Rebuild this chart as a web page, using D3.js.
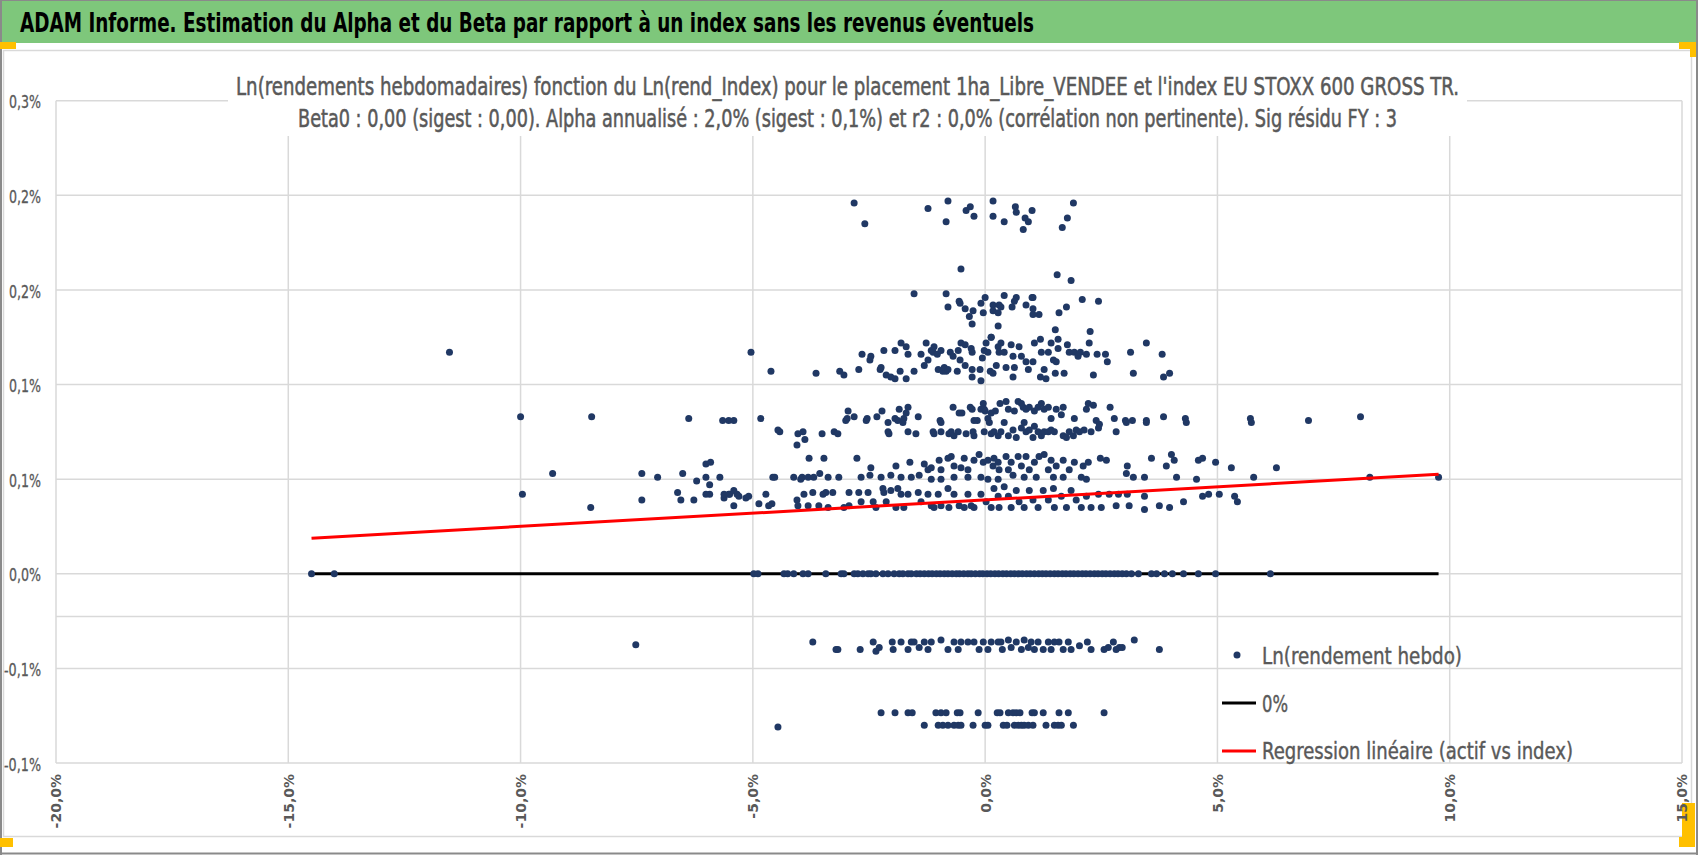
<!DOCTYPE html>
<html>
<head>
<meta charset="utf-8">
<script src="https://cdn.jsdelivr.net/npm/d3@7"></script>
<style>
  body { margin: 0; background: #fff; }
  svg { display: block; }
</style>
</head>
<body>
<script>
// axes
let xTicks = [-20, -15, -10, -5, 0, 5, 10, 15];
let xTickLabels = ["-20,0%", "-15,0%", "-10,0%", "-5,0%", "0,0%", "5,0%", "10,0%", "15,0%"];
let yTicks = [-0.1, -0.05, 0, 0.05, 0.1, 0.15, 0.2, 0.25];
let yTickLabels = ["-0,1%", "-0,1%", "0,0%", "0,1%", "0,1%", "0,2%", "0,2%", "0,3%"];
let axisCrossY = -0.0226;

// points [x = Ln(rend_Index) %, y = Ln(rendement hebdo) %]
let ptsTop = [[-2.82,0.196],[-2.59,0.185],[-1.23,0.193],[-0.80,0.197],[-0.84,0.186],[-0.41,0.192],[-0.32,0.194],[-0.24,0.189],[0.17,0.197],[0.17,0.189],[-0.52,0.161],[0.41,0.186],[0.65,0.194],[0.67,0.191],[0.86,0.188],[0.93,0.186],[0.82,0.182],[1.01,0.192],[1.90,0.196],[1.77,0.188],[1.66,0.183],[1.55,0.158],[1.85,0.155]];

let ptsHigh = [[-1.53,0.148],[-0.84,0.148],[-0.80,0.141],[-0.56,0.144],[-0.54,0.143],[-0.43,0.140],[-0.34,0.136],[-0.26,0.139],[-0.28,0.132],[-0.09,0.143],[0.00,0.146],[-0.04,0.138],[0.17,0.142],[0.17,0.139],[0.28,0.138],[0.30,0.142],[0.28,0.131],[0.13,0.125],[0.41,0.147],[0.34,0.141],[0.67,0.146],[0.63,0.144],[0.58,0.141],[0.88,0.142],[1.01,0.146],[1.03,0.146],[1.03,0.140],[1.03,0.137],[1.16,0.137],[1.59,0.138],[1.75,0.141],[2.09,0.145],[2.44,0.144],[1.51,0.129],[2.26,0.128]];

let ptsMid = [[-11.53,0.117],[-5.04,0.117],[-4.61,0.107],[-3.64,0.106],[-3.13,0.107],[-3.04,0.105],[-2.72,0.108],[-2.65,0.116],[-2.48,0.113],[-2.46,0.115],[-2.26,0.108],[-2.24,0.109],[-2.18,0.118],[-2.13,0.105],[-2.03,0.104],[-1.94,0.103],[-1.94,0.118],[-1.83,0.107],[-1.81,0.122],[-1.70,0.103],[-1.70,0.120],[-1.66,0.116],[-1.53,0.107],[-1.38,0.116],[-1.31,0.110],[-1.27,0.122],[-1.23,0.113],[-1.16,0.118],[-1.12,0.117],[-1.10,0.120],[-1.03,0.116],[-1.01,0.108],[-0.95,0.118],[-0.91,0.107],[-0.84,0.107],[-0.88,0.109],[-0.80,0.108],[-0.75,0.117],[-0.69,0.115],[-0.60,0.107],[-0.58,0.118],[-0.54,0.113],[-0.52,0.122],[-0.43,0.121],[-0.43,0.110],[-0.30,0.119],[-0.28,0.117],[-0.28,0.108],[-0.28,0.104],[-0.11,0.108],[-0.09,0.102],[-0.06,0.114],[-0.02,0.118],[0.02,0.122],[0.06,0.117],[0.13,0.125],[0.11,0.107],[0.17,0.106],[0.24,0.110],[0.28,0.120],[0.30,0.117],
  [0.34,0.122],[0.41,0.117],[0.45,0.109],[0.56,0.121],[0.60,0.115],[0.63,0.109],[0.60,0.104],[0.73,0.120],[0.78,0.115],[0.88,0.112],[0.93,0.108],[1.03,0.112],[1.06,0.122],[1.19,0.124],[1.21,0.117],[1.27,0.108],[1.19,0.104],[1.31,0.103],[1.36,0.117],[1.42,0.122],[1.47,0.113],[1.53,0.112],[1.57,0.124],[1.57,0.119],[1.51,0.106],[1.70,0.106],[1.77,0.121],[1.81,0.117],[1.92,0.117],[2.00,0.115],[2.05,0.117],[2.18,0.116],[2.24,0.122],[2.33,0.105],[2.41,0.116],[2.59,0.116],[2.63,0.112],[3.13,0.117],[3.19,0.106],[3.47,0.122],[3.81,0.116],[3.84,0.104],[3.97,0.106]];

let ptsLow = [[-10.0,0.083],[-8.47,0.083],[-6.38,0.082],[-5.65,0.081],[-5.52,0.081],[-5.41,0.081],[-4.83,0.082],[-4.46,0.076],[-4.05,0.068],[-3.88,0.071],[-2.95,0.086],[-2.97,0.082],[-2.82,0.083],[-2.54,0.082],[-2.33,0.083],[-2.22,0.086],[-2.09,0.080],[-1.94,0.082],[-1.85,0.087],[-1.75,0.082],[-1.66,0.088],[-1.70,0.085],[-1.44,0.083],[-0.97,0.081],[-0.69,0.088],[-0.56,0.085],[-0.50,0.085],[-0.32,0.088],[-0.28,0.087],[-0.17,0.081],[-0.09,0.087],[-0.04,0.090],[-0.02,0.087],[0.00,0.086],[0.06,0.082],[0.13,0.085],[0.22,0.086],[0.32,0.090],
  [0.45,0.091],[0.50,0.087],[0.63,0.086],[0.71,0.091],[0.78,0.090],[0.82,0.088],[0.88,0.087],[0.95,0.088],[1.06,0.086],[1.14,0.088],[1.21,0.090],[1.27,0.087],[1.36,0.088],[1.42,0.082],[1.53,0.087],[1.64,0.084],[1.68,0.088],[1.92,0.082],[2.18,0.087],[2.22,0.090],[2.33,0.089],[2.39,0.081],[2.69,0.088],[2.78,0.082],[3.02,0.081],[3.17,0.081],[3.47,0.081],[3.84,0.083],[4.31,0.082],[5.71,0.082],[6.96,0.081],[8.08,0.083],
  [-3.00,0.081],[-2.56,0.081],[-1.88,0.081],[-1.77,0.080],[-0.95,0.080],[-0.24,0.081],[0.09,0.080],
  [-4.42,0.075],[-4.03,0.074],[-3.92,0.075],[-3.51,0.074],[-3.25,0.075],[-3.17,0.074],[-2.09,0.075],[-2.07,0.074],[-1.66,0.075],[-1.49,0.074],[-1.12,0.075],[-1.10,0.074],[-0.95,0.075],[-0.78,0.074],[-0.73,0.075],[-0.67,0.073],[-0.58,0.075],[-0.41,0.074],[-0.26,0.075],[-0.24,0.073],[-0.02,0.075],[0.13,0.074],[0.19,0.075],[0.28,0.073],
  [0.34,0.075],[0.41,0.080],[0.50,0.073],[0.60,0.076],[0.67,0.072],[0.78,0.077],[0.84,0.080],[0.88,0.075],[0.95,0.076],[1.03,0.072],[1.06,0.078],[1.14,0.075],[1.21,0.073],[1.27,0.075],[1.36,0.075],[1.42,0.076],[1.49,0.075],[1.68,0.073],[1.75,0.072],[1.81,0.075],[1.90,0.073],[1.96,0.076],[2.03,0.075],[2.13,0.076],[2.28,0.075],[2.44,0.077],[2.46,0.079],[2.82,0.075],[3.04,0.080],[3.47,0.080],[4.33,0.080],[5.73,0.080]];

let ptsBase = [[-9.96,0.042],[-9.31,0.053],[-8.49,0.035],[-7.39,0.053],[-7.05,0.051],[-7.39,0.039],[-6.51,0.053],[-6.21,0.049],[-6.01,0.058],[-5.93,0.047],[-6.62,0.043],[-6.55,0.039],[-6.27,0.039],[-5.93,0.042],[-5.50,0.042],[-5.34,0.042],[-5.15,0.040],[-5.62,0.040],[-4.87,0.037],[-4.57,0.051],[-4.59,0.037],[-3.94,0.051],[-4.05,0.039],
  [-5.91,0.059],[-3.79,0.061],[-3.47,0.061],[-2.76,0.061],[-2.46,0.056],[-1.92,0.057],[-1.62,0.059],[-1.31,0.058],[-1.23,0.055],[-1.16,0.056],[-0.99,0.060],[-0.95,0.055],[-0.80,0.061],[-0.73,0.062],[-0.67,0.057],[-0.52,0.056],[-0.45,0.061],[-0.37,0.055],[-0.24,0.060],[-0.13,0.063],[-0.04,0.059],[0.06,0.060],[0.17,0.057],[0.19,0.061],[0.28,0.059],[0.30,0.055],
  [-6.01,0.051],[-5.71,0.051],[-4.53,0.051],[-4.12,0.051],[-3.97,0.050],[-3.81,0.051],[-3.69,0.051],[-3.56,0.053],[-3.38,0.051],[-3.15,0.051],[-2.67,0.051],[-2.48,0.052],[-2.24,0.051],[-2.03,0.052],[-1.81,0.051],[-1.59,0.051],[-1.42,0.052],[-1.16,0.050],[-0.95,0.050],[-0.67,0.051],[-0.37,0.051],[-0.09,0.051],[0.06,0.050],[0.28,0.050],
  [-6.01,0.042],[-5.62,0.042],[-5.52,0.042],[-5.41,0.044],[-5.41,0.036],[-5.30,0.041],[-5.09,0.041],[-4.72,0.042],[-4.66,0.036],[-4.03,0.036],[-3.90,0.042],[-3.81,0.036],[-3.71,0.043],[-3.58,0.036],[-3.49,0.042],[-3.43,0.043],[-3.38,0.035],[-3.28,0.043],[-3.04,0.035],[-2.93,0.043],[-2.93,0.036],[-2.72,0.043],[-2.67,0.038],[-2.52,0.043],[-2.41,0.038],[-2.35,0.035],[-2.20,0.045],[-2.18,0.043],[-2.13,0.038],[-2.03,0.044],[-1.92,0.035],[-1.88,0.045],[-1.81,0.042],[-1.75,0.035],[-1.66,0.042],[-1.44,0.043],[-1.38,0.038],[-1.23,0.042],[-1.16,0.036],[-1.10,0.035],[-1.01,0.042],[-0.95,0.036],[-0.80,0.045],[-0.78,0.035],[-0.67,0.042],[-0.56,0.036],[-0.45,0.035],[-0.37,0.042],[-0.30,0.036],[-0.24,0.035],[-0.09,0.042],[0.02,0.038],[0.13,0.035],[0.19,0.045],[0.28,0.041],[0.30,0.035],
  [0.45,0.062],[0.56,0.059],[0.50,0.055],[0.71,0.062],[0.78,0.057],[0.88,0.062],[0.95,0.055],[1.06,0.059],[1.16,0.062],[1.27,0.063],[1.36,0.055],[1.42,0.060],[1.53,0.057],[1.68,0.060],[1.81,0.055],[1.92,0.059],[2.11,0.057],[2.22,0.059],[2.48,0.061],[2.61,0.060],[3.06,0.057],[3.04,0.053],[3.19,0.051],[3.43,0.051],[3.58,0.061],[3.90,0.057],[4.01,0.063],[4.07,0.060],[4.12,0.051],[4.55,0.050],[4.59,0.060],[4.68,0.061],[4.96,0.059],[5.30,0.056],[5.78,0.051],[6.27,0.056],[8.28,0.051],[9.76,0.051],
  [0.60,0.052],[0.84,0.051],[1.10,0.051],[1.47,0.051],[1.68,0.051],[2.07,0.051],[2.18,0.050],
  [0.41,0.046],[0.50,0.041],[0.56,0.035],[0.67,0.044],[0.73,0.038],[0.84,0.035],[0.95,0.044],[1.03,0.039],[1.14,0.035],[1.25,0.044],[1.36,0.039],[1.47,0.045],[1.49,0.035],[1.64,0.041],[1.75,0.035],[1.85,0.044],[1.96,0.039],[2.07,0.035],[2.18,0.041],[2.28,0.035],[2.44,0.042],[2.50,0.035],[2.67,0.042],[2.82,0.036],[2.87,0.042],[3.06,0.042],[3.10,0.036],[3.43,0.041],[3.43,0.034],[3.75,0.036],[3.97,0.035],[4.27,0.038],[4.68,0.041],[4.81,0.042],[5.04,0.042],[5.37,0.041],[5.43,0.038]];

let zeroRowX = [-14.50,-14.01,-4.98,-4.89,-4.33,-4.25,-4.12,-3.92,-3.81,-3.43,-3.10,-3.04,-2.82,-2.74,-2.63,-2.52,-2.46,-2.35,-2.20,-2.09,
  -1.96,-1.85,-1.77,-1.66,-1.59,-1.48,-1.40,-1.31,-1.22,-1.14,-1.05,-0.97,-0.88,-0.80,-0.71,-0.62,-0.55,-0.46,-0.37,-0.30,-0.21,-0.12,-0.05,
  0.04,0.12,0.21,0.29,0.38,0.46,0.55,0.63,0.72,0.80,0.89,0.97,1.06,1.15,1.23,1.31,1.40,1.49,1.57,1.66,1.74,1.83,1.91,2.00,2.09,2.17,2.26,2.35,2.43,2.52,2.60,2.69,2.78,2.86,2.95,3.04,3.15,
  3.30,3.58,3.69,3.86,4.03,4.27,4.59,4.96,6.14];

let ptsNeg1 = [[-7.52,-0.0375],[-3.71,-0.036],[-3.21,-0.040],[-3.17,-0.040],[-2.69,-0.040],[-2.41,-0.036],[-2.35,-0.041],[-2.28,-0.039],[-2.00,-0.036],[-1.98,-0.040],[-1.81,-0.036],[-1.66,-0.040],[-1.59,-0.036],[-1.53,-0.036],[-1.42,-0.039],[-1.31,-0.036],[-1.23,-0.040],[-1.16,-0.036],[-0.95,-0.035],[-0.80,-0.040],[-0.67,-0.036],[-0.58,-0.040],[-0.52,-0.036],[-0.37,-0.036],[-0.24,-0.036],[-0.13,-0.040],[-0.04,-0.036],[0.06,-0.040],[0.13,-0.036],[0.28,-0.036],
  [0.34,-0.036],[0.37,-0.040],[0.50,-0.035],[0.56,-0.039],[0.67,-0.036],[0.78,-0.040],[0.84,-0.035],[0.93,-0.039],[0.99,-0.036],[1.06,-0.040],[1.14,-0.036],[1.25,-0.040],[1.36,-0.036],[1.42,-0.040],[1.49,-0.036],[1.59,-0.036],[1.68,-0.040],[1.79,-0.036],[1.85,-0.040],[2.03,-0.038],[2.20,-0.036],[2.28,-0.040],[2.56,-0.040],[2.65,-0.039],[2.76,-0.036],[2.82,-0.040],[2.89,-0.039],[2.95,-0.039],[3.21,-0.035],[3.75,-0.040]];

let ptsNeg2 = [[-4.46,-0.081],[-2.24,-0.0735],[-1.94,-0.0735],[-1.66,-0.0735],[-1.57,-0.0735],[-1.06,-0.0735],[-0.95,-0.0735],[-0.84,-0.0735],[-0.60,-0.0735],[-0.54,-0.0735],[-0.15,-0.0735],[0.26,-0.0735],[0.32,-0.0735],[0.50,-0.0735],[0.60,-0.0735],[0.67,-0.0735],[0.75,-0.0735],[1.01,-0.0735],[1.06,-0.0735],[1.25,-0.0735],[1.59,-0.0735],[1.79,-0.0735],[2.56,-0.0735],
  [-1.31,-0.080],[-1.01,-0.080],[-0.91,-0.080],[-0.80,-0.080],[-0.67,-0.080],[-0.58,-0.080],[-0.52,-0.080],[-0.26,-0.080],[0.00,-0.080],[0.06,-0.080],[0.39,-0.080],[0.47,-0.080],[0.63,-0.080],[0.71,-0.080],[0.78,-0.080],[0.84,-0.080],[0.93,-0.080],[1.03,-0.080],[1.31,-0.080],[1.49,-0.080],[1.57,-0.080],[1.64,-0.080],[1.90,-0.080]];

// lines
let zeroLineX = [-14.5, 9.76];
let zeroLineY = [0, 0];
let regX = [-14.5, 9.76];
let regY = [0.0188, 0.0526];

let headerText = "ADAM Informe. Estimation du Alpha et du Beta par rapport à un index sans les revenus éventuels";
let titleLines = ["Ln(rendements hebdomadaires) fonction du Ln(rend_Index) pour le placement 1ha_Libre_VENDEE et l'index EU STOXX  600 GROSS TR.",
                  "Beta0 : 0,00 (sigest : 0,00).  Alpha annualisé : 2,0% (sigest : 0,1%) et r2 : 0,0% (corrélation non pertinente). Sig résidu FY : 3"];
let legendLabels = ["Ln(rendement hebdo)", "0%", "Regression linéaire (actif vs index)"];

let w = 1698;
let h = 855;
let narrow = "'Liberation Sans Narrow', 'DejaVu Sans Condensed', 'Noto Sans', sans-serif";
let grey = "#595959";
let navy = "#203864";

let svg = d3.select("body").append("svg").attr("width", w).attr("height", h);

// page chrome
svg.append("rect").attr("x", 0).attr("y", 0).attr("width", w).attr("height", h).attr("fill", "#fff");
svg.append("rect").attr("x", 0).attr("y", 0).attr("width", w).attr("height", 43).attr("fill", "#7ec77b");
svg.append("line").attr("x1", 0).attr("x2", w).attr("y1", 0.5).attr("y2", 0.5).attr("stroke", "#8a8a8a");
svg.append("rect").attr("x", 3.5).attr("y", 50.5).attr("width", 1688).attr("height", 786)
	.attr("fill", "#fff").attr("stroke", "#d9d9d9").attr("stroke-width", 1.5);
svg.append("line").attr("x1", 1).attr("x2", 1).attr("y1", 0).attr("y2", h).attr("stroke", "#8a8a8a").attr("stroke-width", 2);
svg.append("line").attr("x1", 1697).attr("x2", 1697).attr("y1", 0).attr("y2", h).attr("stroke", "#8a8a8a").attr("stroke-width", 2);
svg.append("line").attr("x1", 0).attr("x2", w).attr("y1", 853.5).attr("y2", 853.5).attr("stroke", "#8a8a8a").attr("stroke-width", 2);

let orange = "#ffc000";
[[0, 42, 16, 7], [1679, 42, 17, 7], [1690, 42, 6, 15], [0, 838, 13, 9], [1682, 803, 13, 44], [1679, 837, 16, 10]]
	.forEach(function(r) {
		svg.append("rect").attr("x", r[0]).attr("y", r[1]).attr("width", r[2]).attr("height", r[3]).attr("fill", orange);
	});

svg.append("text").text(headerText)
	.attr("x", 20).attr("y", 32)
	.attr("font-family", narrow).attr("font-size", "26px").attr("font-weight", "bold")
	.attr("fill", "#000")
	.attr("textLength", 1014).attr("lengthAdjust", "spacingAndGlyphs");

// scales
let x = d3.scaleLinear().domain([-20, 15]).range([56, 1682]);
let y = d3.scaleLinear().domain([-0.1, 0.25]).range([763, 100.7]);

// gridlines
let grid = svg.append("g");
grid.selectAll("line.gx").data(xTicks).enter().append("line")
	.attr("x1", function(d) { return x(d); }).attr("x2", function(d) { return x(d); })
	.attr("y1", y(0.25)).attr("y2", y(-0.1))
	.attr("stroke", "#d9d9d9").attr("stroke-width", 1.5);
grid.selectAll("line.gy").data(yTicks.concat([axisCrossY])).enter().append("line")
	.attr("x1", x(-20)).attr("x2", x(15))
	.attr("y1", function(d) { return y(d); }).attr("y2", function(d) { return y(d); })
	.attr("stroke", "#d9d9d9").attr("stroke-width", 1.5);

// title, on a white box over the plot; drawn small and stretched upward like the narrow original
let titleX = [236, 298];
let titleW = [1223, 1099];
let titleY = [95, 127];
svg.append("rect").attr("x", titleX[0] - 8).attr("y", 68).attr("width", titleW[0] + 16).attr("height", 68).attr("fill", "#fff");
titleLines.forEach(function(t, i) {
	svg.append("text").text(t)
		.attr("transform", "translate(" + titleX[i] + "," + titleY[i] + ") scale(1,1.35)")
		.attr("x", 0).attr("y", 0)
		.attr("font-family", narrow).attr("font-size", "19px")
		.attr("fill", grey).attr("stroke", grey).attr("stroke-width", 0.4)
		.attr("textLength", titleW[i]).attr("lengthAdjust", "spacingAndGlyphs");
});

// axes labels
let xAxis = svg.append("g").attr("transform", "translate(0," + y(-0.1) + ")")
	.call(d3.axisBottom(x).tickValues(xTicks).tickSize(0).tickFormat(function(d, i) { return xTickLabels[i]; }));
xAxis.select(".domain").remove();
xAxis.selectAll("text")
	.attr("y", 0).attr("x", -11).attr("dy", "0.35em")
	.attr("transform", "rotate(-90)")
	.style("text-anchor", "end")
	.attr("font-family", "'DejaVu Sans', sans-serif").attr("font-size", "14px").attr("font-weight", "bold")
	.attr("fill", grey);

let yAxis = svg.append("g").attr("transform", "translate(" + x(-20) + ",0)")
	.call(d3.axisLeft(y).tickValues(yTicks).tickSize(0).tickFormat(function(d, i) { return yTickLabels[i]; }));
yAxis.select(".domain").remove();
yAxis.selectAll("text")
	.attr("x", -15).attr("dy", "0.4em")
	.attr("font-family", narrow).attr("font-size", "18px")
	.attr("fill", grey).attr("stroke", grey).attr("stroke-width", 0.3)
	.attr("textLength", function(d) { return d < 0 ? 37 : 32; })
	.attr("lengthAdjust", "spacingAndGlyphs");

// 0% line
let line = d3.line().x(function(d) { return x(d[0]); }).y(function(d) { return y(d[1]); });
svg.append("path").datum(d3.zip(zeroLineX, zeroLineY)).attr("d", line)
	.attr("stroke", "#000").attr("stroke-width", 3).attr("fill", "none");

// scatter
let allPts = ptsTop.concat(ptsHigh, ptsMid, ptsLow, ptsBase,
	zeroRowX.map(function(v) { return [v, 0]; }), ptsNeg1, ptsNeg2);
svg.append("g").selectAll("circle")
	.data(allPts)
	.enter()
	.append("circle")
	.attr("cx", function(d) { return x(d[0]); })
	.attr("cy", function(d) { return y(d[1]); })
	.attr("r", 3.5)
	.attr("fill", navy);

// regression
svg.append("path").datum(d3.zip(regX, regY)).attr("d", line)
	.attr("stroke", "#ff0000").attr("stroke-width", 3).attr("fill", "none");

// legend
let lg = svg.append("g");
lg.append("circle").attr("cx", 1237).attr("cy", 655).attr("r", 3.5).attr("fill", navy);
lg.append("line").attr("x1", 1222).attr("x2", 1256).attr("y1", 703).attr("y2", 703).attr("stroke", "#000").attr("stroke-width", 3);
lg.append("line").attr("x1", 1222).attr("x2", 1256).attr("y1", 751).attr("y2", 751).attr("stroke", "#ff0000").attr("stroke-width", 3);
let legW = [200, 26, 311];
let legY = [664, 712, 759];
legendLabels.forEach(function(t, i) {
	lg.append("text").text(t)
		.attr("x", 1262).attr("y", legY[i])
		.attr("font-family", narrow).attr("font-size", "23px")
		.attr("fill", grey).attr("stroke", grey).attr("stroke-width", 0.4)
		.attr("textLength", legW[i]).attr("lengthAdjust", "spacingAndGlyphs");
});
</script>
</body>
</html>
